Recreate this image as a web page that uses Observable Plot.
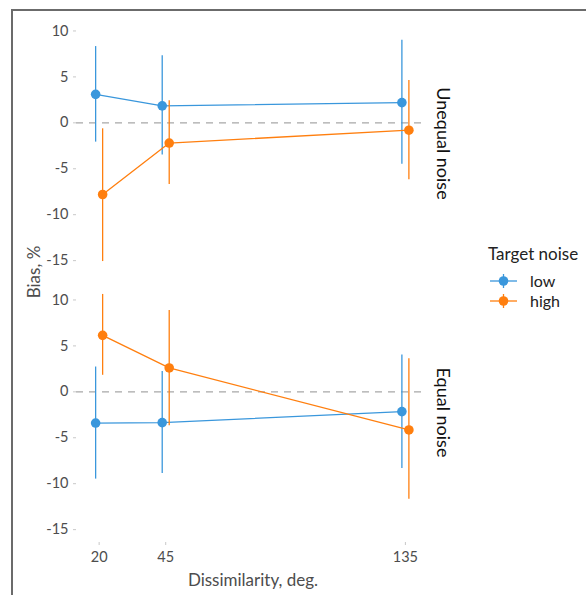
<!DOCTYPE html>
<html><head><meta charset="utf-8">
<script src="https://cdn.jsdelivr.net/npm/d3@7"></script>
<script src="https://cdn.jsdelivr.net/npm/@observablehq/plot@0.6"></script>
<style>
body{margin:0;background:#fff;font-family:Lato,"Open Sans",sans-serif;}
#wrap{position:relative;width:586px;height:595px;overflow:hidden;background:#fff;}
#frame{position:absolute;left:11px;top:9px;width:700px;height:700px;border-left:2px solid #6b6b6b;border-top:2px solid #6b6b6b;pointer-events:none;}
#chart{position:absolute;left:0;top:0;}
.lab{position:absolute;color:#4d4d4d;font-size:17px;white-space:nowrap;line-height:1;}
#ylab{left:33px;top:272px;transform:translate(-50%,-50%) rotate(-90deg);}
#xlab{left:253px;top:579px;transform:translate(-50%,-50%);}
#legend{position:absolute;left:488px;top:245px;font-size:16px;color:#222;line-height:1;}
#legend .title{font-size:17px;margin-bottom:9px;}
#legend .item{display:flex;align-items:center;height:20px;}
#legend svg{margin-right:13px;margin-left:2px;}
</style>
</head><body>
<div id="wrap"><div id="chart"></div><div id="frame"></div>
<div class="lab" id="ylab">Bias, %</div>
<div class="lab" id="xlab">Dissimilarity, deg.</div>
<div id="legend"></div>
</div>
<script>
const dissimilarity = [20, 45, 135];
const panels = ["Unequal noise", "Equal noise"];
const noiseLevels = ["low", "high"];
const yTicks = [-15, -10, -5, 0, 5, 10];

// Unequal noise panel
const unequalLowBias = [3.1, 1.85, 2.2];
const unequalLowLo   = [-2.1, -3.5, -4.5];
const unequalLowHi   = [8.3, 7.3, 9.0];
const unequalHighBias = [-7.8, -2.2, -0.8];
const unequalHighLo   = [-15.1, -6.7, -6.2];
const unequalHighHi   = [-0.65, 2.4, 4.6];

// Equal noise panel
const equalLowBias = [-3.4, -3.35, -2.15];
const equalLowLo   = [-9.5, -8.9, -8.35];
const equalLowHi   = [2.7, 2.2, 4.0];
const equalHighBias = [6.15, 2.6, -4.15];
const equalHighLo   = [1.8, -3.7, -11.7];
const equalHighHi   = [10.6, 8.85, 3.6];

const series = [
  ["Unequal noise", "low", unequalLowBias, unequalLowLo, unequalLowHi],
  ["Unequal noise", "high", unequalHighBias, unequalHighLo, unequalHighHi],
  ["Equal noise", "low", equalLowBias, equalLowLo, equalLowHi],
  ["Equal noise", "high", equalHighBias, equalHighLo, equalHighHi]
];
const rows = [];
for (const [panel, noise, b, lo, hi] of series)
  dissimilarity.forEach((d, i) => rows.push({panel, noise, d, bias: b[i], lo: lo[i], hi: hi[i]}));

const colors = ["#3a97dc", "#ff7f0f"];
const dodge = {low: -3.5, high: 3.5};
const fmt = d => String(d);

const marks = [
  Plot.ruleY([0], {stroke: "#a8a8a8", strokeDasharray: "7,6", strokeWidth: 1.1}),
  Plot.axisY({ticks: yTicks, tickFormat: fmt, tickSize: 3, tickPadding: 5, stroke: "#c8c8c8", fill: "#4d4d4d", fontSize: 14.5}),
  Plot.axisX({ticks: dissimilarity, tickFormat: fmt, tickSize: 3, tickPadding: 6, stroke: "#c8c8c8", fill: "#4d4d4d", fontSize: 14.5, label: null}),
  Plot.text(panels, {fy: d => d, text: d => d, frameAnchor: "right", rotate: 90, dx: 19, textAnchor: "middle", lineAnchor: "middle", fontSize: 18, fill: "#111"})
];
for (const n of noiseLevels) {
  const data = rows.filter(r => r.noise === n);
  marks.push(
    Plot.ruleX(data, {x: "d", y1: "lo", y2: "hi", fy: "panel", stroke: "noise", strokeWidth: 1.3, dx: dodge[n]}),
    Plot.line(data, {x: "d", y: "bias", fy: "panel", stroke: "noise", z: "noise", strokeWidth: 1.3, dx: dodge[n]}),
    Plot.dot(data, {x: "d", y: "bias", fy: "panel", fill: "noise", r: 4.8, dx: dodge[n]})
  );
}

const chart = Plot.plot({
  width: 586, height: 595,
  marginLeft: 76, marginRight: 163, marginTop: 13, marginBottom: 53,
  style: {fontFamily: "Lato, 'Open Sans', sans-serif", fontSize: "14.5px", background: "transparent"},
  x: {domain: [11.5, 141.8], label: null},
  y: {domain: [-16.4, 11.9], label: null},
  fy: {domain: panels, paddingInner: 0.0335, paddingOuter: 0, label: null, axis: null},
  color: {domain: noiseLevels, range: colors},
  marks
});
document.getElementById("chart").appendChild(chart);

// legend
const cs = chart.scale("color");
const leg = document.getElementById("legend");
leg.innerHTML = '<div class="title">Target noise</div>';
for (const n of cs.domain) {
  const c = cs.apply(n);
  const item = document.createElement("div");
  item.className = "item";
  item.innerHTML = `<svg width="27" height="14"><line x1="0" x2="27" y1="7" y2="7" stroke="${c}" stroke-width="1.3"/><line x1="13.5" x2="13.5" y1="0" y2="14" stroke="${c}" stroke-width="1.3"/><circle cx="13.5" cy="7" r="4.8" fill="${c}"/></svg><span>${n}</span>`;
  leg.appendChild(item);
}
</script>
</body></html>
